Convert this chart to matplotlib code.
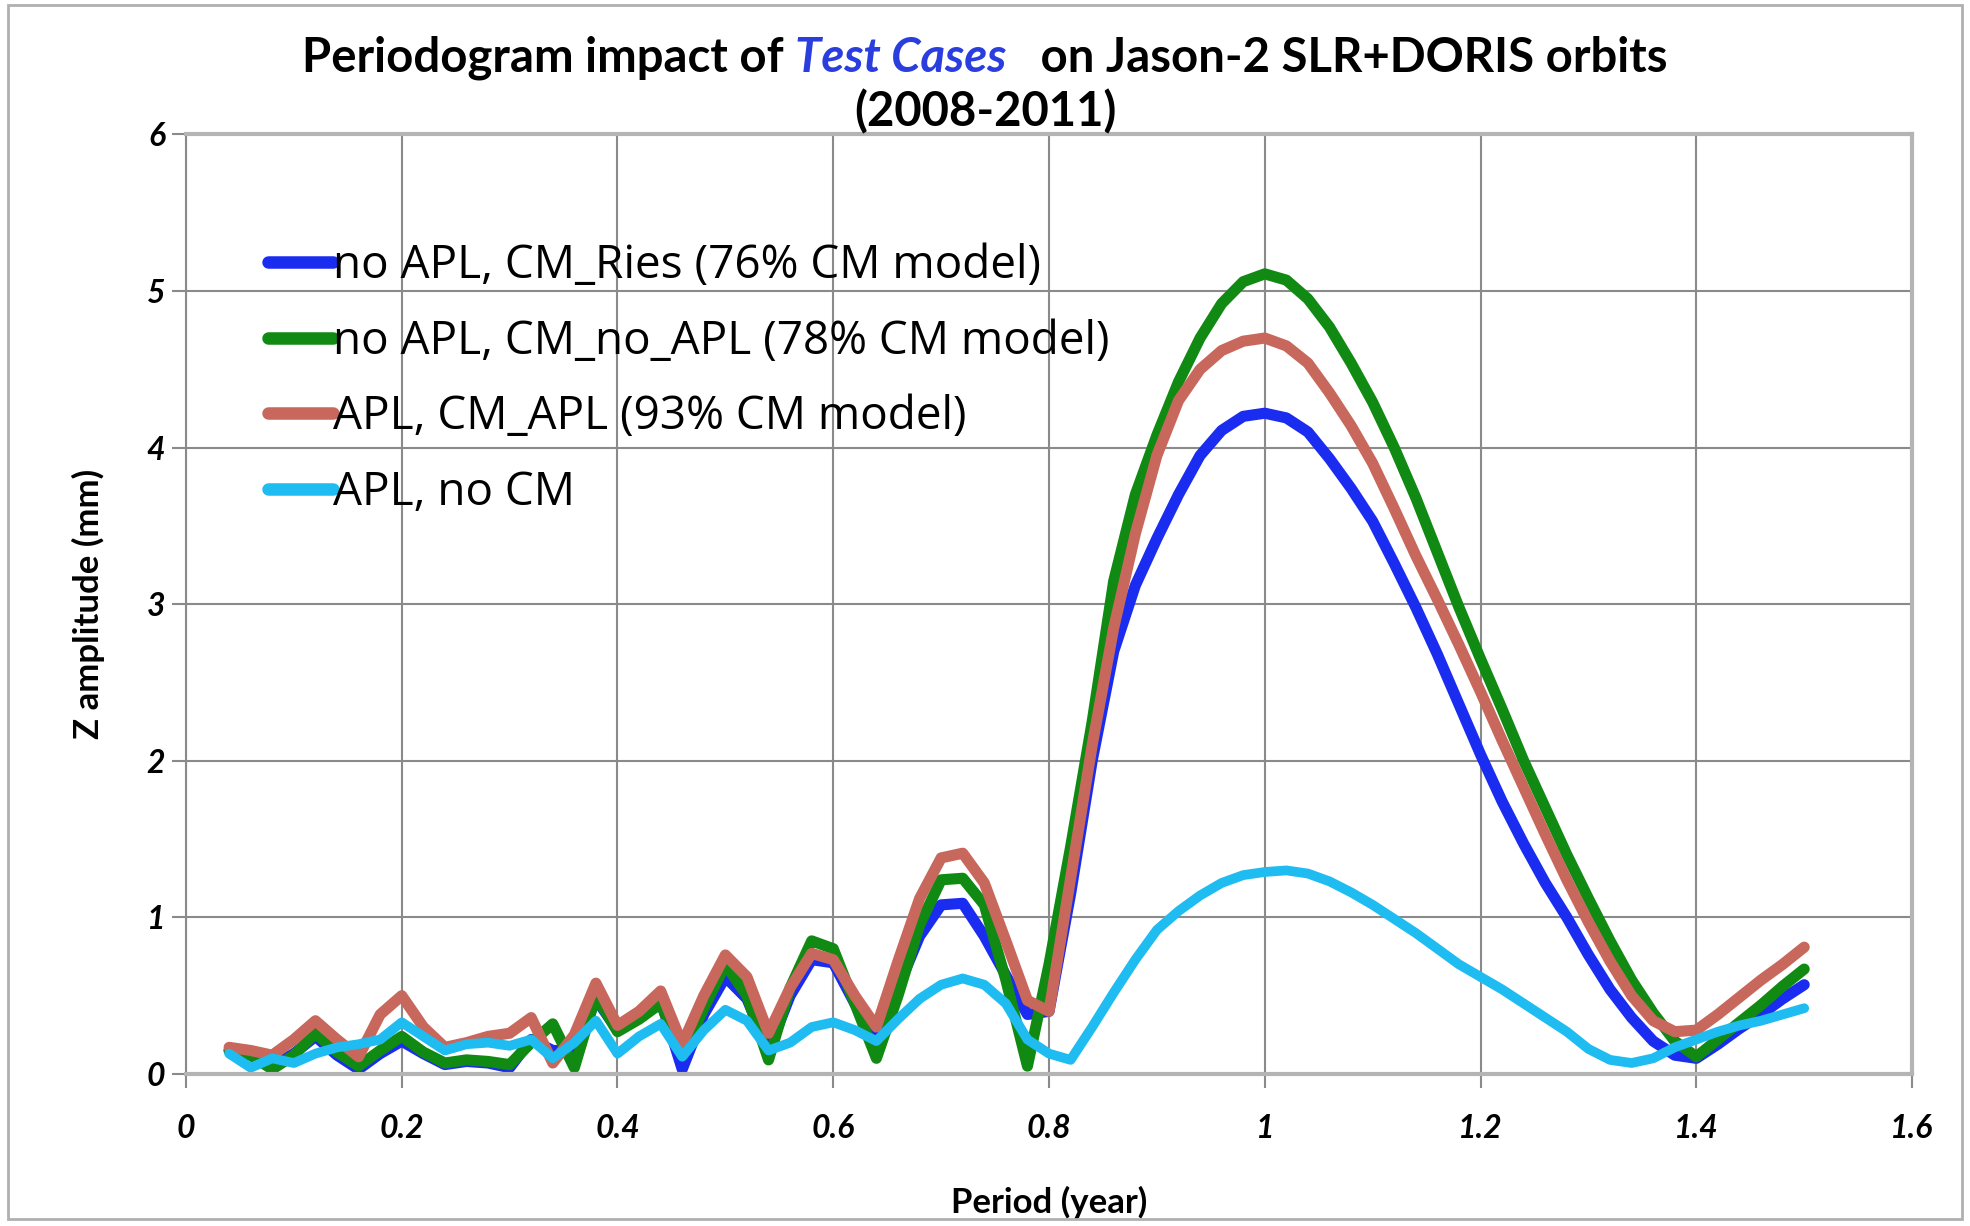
import matplotlib
matplotlib.use('Agg')
import matplotlib.pyplot as plt
from matplotlib.patches import Rectangle

# Period axis (year), shared by all four series
period = [0.04, 0.06, 0.08, 0.10, 0.12, 0.14, 0.16, 0.18, 0.20, 0.22,
          0.24, 0.26, 0.28, 0.30, 0.32, 0.34, 0.36, 0.38, 0.40, 0.42,
          0.44, 0.46, 0.48, 0.50, 0.52, 0.54, 0.56, 0.58, 0.60, 0.62,
          0.64, 0.66, 0.68, 0.70, 0.72, 0.74, 0.76, 0.78, 0.80, 0.82,
          0.84, 0.86, 0.88, 0.90, 0.92, 0.94, 0.96, 0.98, 1.00, 1.02,
          1.04, 1.06, 1.08, 1.10, 1.12, 1.14, 1.16, 1.18, 1.20, 1.22,
          1.24, 1.26, 1.28, 1.30, 1.32, 1.34, 1.36, 1.38, 1.40, 1.42,
          1.44, 1.46, 1.48, 1.50]

# Z amplitude (mm)
cm_ries = [0.15, 0.12, 0.05, 0.13, 0.24, 0.12, 0.03, 0.13, 0.21, 0.13,
           0.06, 0.08, 0.07, 0.04, 0.22, 0.15, 0.15, 0.48, 0.28, 0.36,
           0.47, 0.03, 0.38, 0.62, 0.48, 0.15, 0.50, 0.73, 0.71, 0.45,
           0.21, 0.55, 0.88, 1.08, 1.09, 0.88, 0.63, 0.38, 0.40, 1.15,
           2.00, 2.70, 3.12, 3.42, 3.70, 3.95, 4.11, 4.20, 4.22, 4.19,
           4.10, 3.93, 3.74, 3.53, 3.26, 2.98, 2.68, 2.36, 2.04, 1.74,
           1.47, 1.22, 1.00, 0.76, 0.54, 0.36, 0.21, 0.12, 0.10, 0.19,
           0.29, 0.38, 0.48, 0.57]

cm_no_apl = [0.15, 0.12, 0.03, 0.12, 0.26, 0.14, 0.05, 0.15, 0.24, 0.14,
             0.07, 0.09, 0.08, 0.06, 0.20, 0.32, 0.04, 0.50, 0.27, 0.35,
             0.45, 0.12, 0.42, 0.70, 0.50, 0.09, 0.55, 0.85, 0.80, 0.45,
             0.10, 0.50, 0.95, 1.24, 1.25, 1.08, 0.60, 0.05, 0.70, 1.45,
             2.25, 3.15, 3.70, 4.08, 4.42, 4.70, 4.92, 5.06, 5.11, 5.07,
             4.95, 4.77, 4.54, 4.29, 4.00, 3.68, 3.33, 2.98, 2.65, 2.33,
             2.00, 1.70, 1.40, 1.12, 0.85, 0.60, 0.39, 0.21, 0.11, 0.22,
             0.33, 0.44, 0.56, 0.67]

cm_apl = [0.17, 0.15, 0.12, 0.22, 0.34, 0.22, 0.11, 0.38, 0.50, 0.30,
          0.17, 0.20, 0.24, 0.26, 0.36, 0.07, 0.25, 0.58, 0.31, 0.40,
          0.53, 0.19, 0.50, 0.76, 0.62, 0.26, 0.55, 0.77, 0.73, 0.50,
          0.30, 0.72, 1.12, 1.38, 1.41, 1.22, 0.85, 0.47, 0.40, 1.25,
          2.10, 2.85, 3.45, 3.95, 4.30, 4.50, 4.62, 4.68, 4.70, 4.65,
          4.54, 4.35, 4.14, 3.90, 3.61, 3.31, 3.03, 2.74, 2.44, 2.13,
          1.83, 1.53, 1.24, 0.97, 0.72, 0.50, 0.34, 0.27, 0.28, 0.38,
          0.49, 0.60, 0.70, 0.81]

no_cm = [0.13, 0.04, 0.10, 0.07, 0.13, 0.17, 0.19, 0.22, 0.33, 0.24,
         0.15, 0.19, 0.20, 0.18, 0.22, 0.10, 0.20, 0.34, 0.13, 0.24,
         0.32, 0.11, 0.28, 0.41, 0.34, 0.15, 0.20, 0.30, 0.33, 0.28,
         0.21, 0.35, 0.48, 0.57, 0.61, 0.57, 0.45, 0.22, 0.13, 0.09,
         0.30, 0.52, 0.73, 0.92, 1.04, 1.14, 1.22, 1.27, 1.29, 1.30,
         1.28, 1.23, 1.16, 1.08, 0.99, 0.90, 0.80, 0.70, 0.62, 0.54,
         0.45, 0.36, 0.27, 0.16, 0.09, 0.07, 0.10, 0.17, 0.22, 0.27,
         0.31, 0.34, 0.38, 0.42]

labels = ['no APL, CM_Ries (76% CM model)',
          'no APL, CM_no_APL (78% CM model)',
          'APL, CM_APL (93% CM model)',
          'APL, no CM']
colors = ['#1a2cf0', '#108a12', '#c8675c', '#1ebcf0']

plt.rcParams['font.family'] = ['Lato', 'DejaVu Sans']

fig = plt.figure(figsize=(19.7, 12.26), dpi=100)
ax = fig.add_axes([0.0944, 0.124, 0.8762, 0.7663])

series = [cm_ries, cm_no_apl, cm_apl, no_cm]
for vals, lab, col in zip(series, labels, colors):
    lw = 7 if col == '#1ebcf0' else 8
    ax.plot(period, vals, color=col, lw=lw, label=lab,
            solid_joinstyle='round', solid_capstyle='round')

ax.set_xlim(0, 1.6)
ax.set_ylim(0, 6)
ax.set_xticks([0, 0.2, 0.4, 0.6, 0.8, 1.0, 1.2, 1.4, 1.6])
ax.set_xticklabels(['0', '0.2', '0.4', '0.6', '0.8', '1', '1.2', '1.4', '1.6'])
ax.set_yticks(range(7))
ax.grid(True, color='#8a8a8a', lw=1.5)
ax.set_axisbelow(True)
for t in ax.get_xticklabels() + ax.get_yticklabels():
    t.set_fontweight('bold')
    t.set_fontstyle('italic')
    t.set_fontsize(23)
ax.tick_params(axis='both', length=10, width=1.5, color='#8a8a8a')
ax.tick_params(axis='x', pad=19)
ax.tick_params(axis='y', pad=5)
for s in ['top', 'right', 'bottom']:
    ax.spines[s].set_color('#b4b4b4')
    ax.spines[s].set_linewidth(3)
ax.spines['left'].set_color('#8a8a8a')
ax.spines['left'].set_linewidth(1.5)

ax.set_xlabel('Period (year)', fontsize=25, fontweight='bold', labelpad=31)
ax.set_ylabel('Z amplitude (mm)', fontsize=25, fontweight='bold', labelpad=30)

leg = ax.legend(loc='upper left', bbox_to_anchor=(0.034, 0.909), frameon=False,
                prop={'family': ['Open Sans', 'DejaVu Sans'], 'size': 33},
                handlelength=1.42, handletextpad=0.0,
                labelspacing=0.65, borderpad=0)
for h in leg.get_lines():
    h.set_linewidth(9)
    h.set_solid_capstyle('round')

# title in pieces: normal bold, italic blue, normal bold
fig.canvas.draw()
r = fig.canvas.get_renderer()
parts = [('Periodogram impact of ', 'black', 'normal'),
         ('Test Cases', '#2a3ee0', 'italic'),
         ('   on Jason-2 SLR+DORIS orbits', 'black', 'normal')]
texts = []
for s, c, st in parts:
    t = fig.text(0, 0.953, s, color=c, fontstyle=st, fontweight='bold',
                 fontsize=34, va='center', ha='left')
    texts.append(t)
widths = [t.get_window_extent(r).width for t in texts]
total = sum(widths)
x0 = (fig.bbox.width * 0.5) - total / 2
for t, w in zip(texts, widths):
    t.set_x(x0 / fig.bbox.width)
    x0 += w
fig.text(0.5, 0.909, '(2008-2011)', fontsize=34, fontweight='bold',
         ha='center', va='center')

fig.patches.append(Rectangle((0.004, 0.006), 0.992, 0.99, transform=fig.transFigure,
                             fill=False, edgecolor='#b0b0b0', lw=2))

plt.savefig('out.png')
